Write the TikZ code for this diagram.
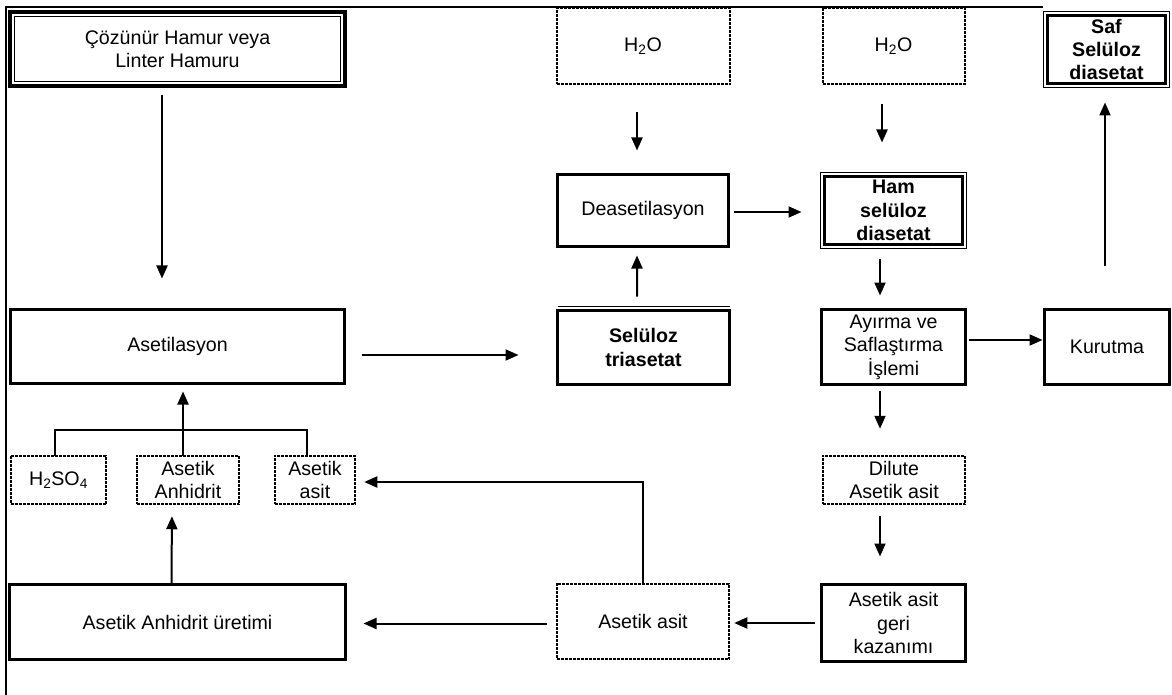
\documentclass[tikz,border=0pt]{standalone}
\usepackage{fontspec}
\setmainfont{Liberation Sans}
\usetikzlibrary{arrows.meta,calc}
\begin{document}
\begin{tikzpicture}[x=1bp,y=-1bp,
  txt/.style={align=center, font=\fontsize{19.7}{23.5}\selectfont, inner sep=0pt, outer sep=0pt},
  box/.style={txt, draw, line width=3.8bp},
  dbox/.style={txt, draw, line width=2bp, dash pattern=on 3bp off 1bp},
  thinln/.style={line width=1.3bp},
  arr/.style={line width=2bp, -{Triangle[length=13bp,width=11bp]}},
  ln/.style={line width=1.6bp}
]
\useasboundingbox (0,0) rectangle (1172,695);
% frame
\draw[ln] (6,695) -- (6,7) -- (1043,7);

% boxes
\node[box, minimum width=335.5bp, minimum height=74.5bp] (cozunur) at (177.5,49) {Çözünür Hamur veya\\Linter Hamuru};
\draw[thinln] ([xshift=5bp,yshift=-5bp]cozunur.north west) rectangle ([xshift=-5bp,yshift=5bp]cozunur.south east);

\node[box, minimum width=334bp, minimum height=74bp] (asetilasyon) at (177.5,346.5) {Asetilasyon};
\node[box, minimum width=172bp, minimum height=74bp, font=\fontsize{19.7}{23.5}\selectfont\bfseries] (triasetat) at (643.5,347.5) {Selüloz\\triasetat};
\draw[thinln] ([yshift=4bp]triasetat.north west) -- ([yshift=4bp]triasetat.north east);

\node[box, minimum width=171bp, minimum height=72bp] (deaset) at (643,210.5) {Deasetilasyon};
\node[dbox, minimum width=173bp, minimum height=76bp] (hoa) at (643,46.5) {\raisebox{-4bp}{H\textsubscript{2}O}};

\node[box, minimum width=138bp, minimum height=68bp, font=\fontsize{19.7}{23.5}\selectfont\bfseries] (ham) at (893.5,210.5) {Ham\\selüloz\\diasetat};
\draw[thinln] ([xshift=-4bp,yshift=4bp]ham.north west) rectangle ([xshift=4bp,yshift=-4bp]ham.south east);
\node[dbox, minimum width=142bp, minimum height=76bp] (hob) at (893.5,46.5) {\raisebox{-4bp}{H\textsubscript{2}O}};

\node[box, minimum width=118bp, minimum height=68bp, font=\fontsize{19.7}{23.5}\selectfont\bfseries] (saf) at (1106.5,49.5) {Saf\\Selüloz\\diasetat};
\draw[thinln] ([xshift=-4bp,yshift=4bp]saf.north west) rectangle ([xshift=4bp,yshift=-4bp]saf.south east);

\node[box, minimum width=125bp, minimum height=75bp] (kurutma) at (1107,347) {Kurutma};
\node[box, minimum width=144bp, minimum height=75bp] (ayirma) at (893.5,347) {Ayırma ve\\Saflaştırma\\İşlemi};
\node[dbox, minimum width=142.5bp, minimum height=48.5bp] (dilute) at (894,480) {Dilute\\Asetik asit};
\node[box, minimum width=144bp, minimum height=77bp] (geri) at (893.5,623) {Asetik asit\\geri\\kazanımı};
\node[dbox, minimum width=172.5bp, minimum height=75.5bp] (asetikasit) at (643,621.5) {Asetik asit};
\node[box, minimum width=336bp, minimum height=75bp] (uretim) at (177.5,622) {Asetik Anhidrit üretimi};

\node[dbox, minimum width=95.5bp, minimum height=48.5bp] (hso) at (58.5,480) {H\textsubscript{2}SO\textsubscript{4}};
\node[dbox, minimum width=102.5bp, minimum height=48.5bp] (anhidrit) at (188,480) {Asetik\\Anhidrit};
\node[dbox, minimum width=80.5bp, minimum height=48.5bp] (asitsm) at (315,480) {Asetik\\asit};

% connectors
\draw[arr, shorten <=9bp, shorten >=31bp] ([xshift=-15.5bp]cozunur.south) -- ([xshift=-15.5bp]asetilasyon.north);
\draw[arr, shorten <=17bp, shorten >=39bp] ([yshift=-8.5bp]asetilasyon.east) -- ([yshift=-8.5bp]asetilasyon.east -| triasetat.west);
\draw[arr, shorten <=14bp, shorten >=9bp] ([xshift=-6.5bp]triasetat.north) -- ([xshift=-6bp]deaset.south);
\draw[arr, shorten <=28bp, shorten >=24bp] ([xshift=-6bp]hoa.south) -- ([xshift=-6bp]deaset.north);
\draw[arr, shorten <=5bp, shorten >=23bp] ([yshift=-1.5bp]deaset.east) -- ([yshift=-1.5bp]deaset.east -| ham.west);
\draw[arr, shorten <=20bp, shorten >=34bp] ([xshift=-11.5bp]hob.south) -- ([xshift=-11.5bp]ham.north);
\draw[arr, shorten <=14bp, shorten >=14bp] ([xshift=-13.5bp]ham.south) -- ([xshift=-13.5bp]ayirma.north);
\draw[arr, shorten <=3bp, shorten >=2bp] ([yshift=7bp]ayirma.east) -- ([yshift=7bp]ayirma.east -| kurutma.west);
\draw[arr, shorten <=43bp, shorten >=19bp] ([xshift=-2bp]kurutma.north) -- ([xshift=-2bp]kurutma.north |- saf.south);
\draw[arr, shorten <=6bp, shorten >=27bp] ([xshift=-13.5bp]ayirma.south) -- ([xshift=-13.5bp]ayirma.south |- dilute.north);
\draw[arr, shorten <=12bp, shorten >=28bp] ([xshift=-14bp]dilute.south) -- ([xshift=-14bp]dilute.south |- geri.north);
\draw[arr, shorten <=7bp, shorten >=5bp] (geri.west) -- (geri.west -| asetikasit.east);
\draw[arr, shorten <=10bp, shorten >=18bp] ([yshift=-2bp]asetikasit.west) -- ([yshift=-2bp]asetikasit.west -| uretim.east);
\draw[arr, shorten >=9bp] (asetikasit.north) |- ([yshift=-2bp]asitsm.east);
\draw[arr, shorten <=1bp, shorten >=12bp] ([xshift=-6bp]uretim.north) -- ([xshift=-16bp]anhidrit.south);
% bracket
\coordinate (brl) at ([xshift=-3.5bp,yshift=26bp]hso.north);
\coordinate (brr) at ([xshift=-8bp,yshift=26bp]asitsm.north);
\draw[ln] ([xshift=-3.5bp]hso.north) -- (brl) -- (brr) -- ([xshift=-8bp]asitsm.north);
\draw[arr, shorten >=8bp] ([xshift=-5bp]anhidrit.north) -- ([xshift=-5bp]anhidrit.north |- asetilasyon.south);
\end{tikzpicture}
\end{document}
